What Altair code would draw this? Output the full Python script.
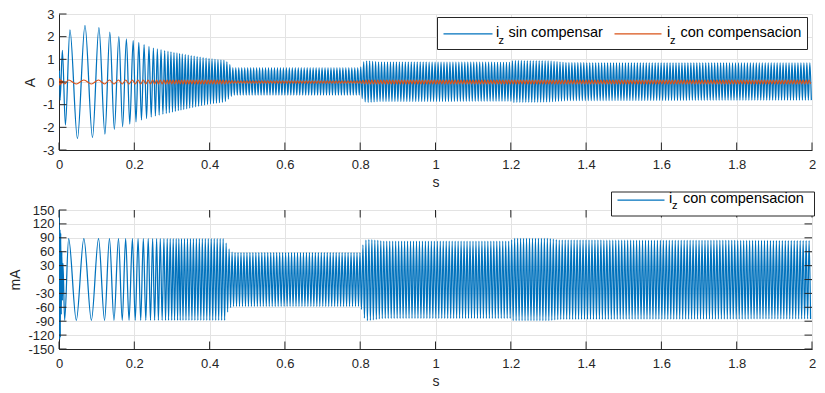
import altair as alt
import numpy as np
import pandas as pd

# ---------------- axis ticks ----------------
x_ticks = [0, 0.2, 0.4, 0.6, 0.8, 1, 1.2, 1.4, 1.6, 1.8, 2]
top_y_ticks = [-3, -2, -1, 0, 1, 2, 3]
bot_y_ticks = [-150, -120, -90, -60, -30, 0, 30, 60, 90, 120, 150]

# ---------------- i_z con compensacion (mA) ----------------
# start-up transient (time s, value mA)
comp_start_t = [0.0, 0.0007, 0.0015, 0.0025, 0.0035, 0.0045, 0.006, 0.0075, 0.009, 0.0105]
comp_start_v = [0, 160, -130, 108, -125, 100, -75, 60, -45, 35]
# times of successive extrema (trough, peak, trough, ...) of the sweep
comp_ext_t = [0.015, 0.0256, 0.046, 0.066, 0.086, 0.105, 0.121, 0.134, 0.146, 0.158,
              0.168, 0.177, 0.186, 0.195, 0.2025, 0.210, 0.217, 0.224, 0.2305, 0.237,
              0.243, 0.2487, 0.254, 0.2593, 0.264, 0.269, 0.274, 0.2787, 0.283, 0.2875,
              0.291, 0.2954, 0.2994, 0.3034, 0.307, 0.3113, 0.315, 0.3183, 0.322, 0.3254]
# upper / lower envelope
comp_hi_t = [0, 0.44, 0.445, 0.45, 0.455, 0.462, 0.8, 0.805, 0.81, 0.816, 0.83, 0.86, 1.2, 1.205, 1.30, 1.33, 2.0]
comp_hi_v = [88, 88, 76, 68, 62, 58, 58, 70, 80, 86, 86, 83, 83, 89, 89, 85, 84]
comp_lo_t = [0, 0.44, 0.445, 0.45, 0.455, 0.462, 0.8, 0.805, 0.81, 0.816, 0.83, 0.86, 1.2, 1.205, 1.30, 1.33, 2.0]
comp_lo_v = [-88, -88, -76, -66, -61, -58, -58, -68, -82, -89, -88, -84, -84, -89, -89, -86, -85]
comp_half_period = 0.00395

# ---------------- i_z sin compensar (A) ----------------
unc_start_t = [0.0, 0.0012, 0.0028, 0.009]
unc_start_v = [0, 0.5, -0.8, 1.4]
unc_ext_t = [0.017, 0.029, 0.049, 0.069, 0.089, 0.106, 0.122, 0.135, 0.147, 0.159,
             0.169, 0.179, 0.188, 0.197, 0.2045, 0.212, 0.219, 0.226, 0.2325, 0.239,
             0.245, 0.2507, 0.256, 0.2613, 0.266, 0.271, 0.276, 0.2807, 0.285, 0.2895,
             0.293, 0.2974, 0.3014, 0.3054, 0.309, 0.3133, 0.317, 0.3203, 0.324, 0.3274]
unc_hi_t = [0, 0.029, 0.069, 0.106, 0.135, 0.159, 0.179, 0.2, 0.25, 0.3, 0.35, 0.4, 0.44, 0.45,
            0.456, 0.462, 0.8, 0.805, 0.81, 0.82, 0.85, 1.2, 1.205, 1.3, 1.35, 2.0]
unc_hi_v = [2.3, 2.3, 2.5, 2.4, 2.2, 2.0, 1.9, 1.82, 1.5, 1.32, 1.17, 1.03, 0.95, 0.85,
            0.72, 0.63, 0.63, 0.78, 0.9, 0.93, 0.88, 0.87, 0.94, 0.93, 0.85, 0.84]
unc_lo_t = [0, 0.017, 0.049, 0.089, 0.122, 0.146, 0.169, 0.2, 0.25, 0.3, 0.35, 0.4, 0.44, 0.45,
            0.456, 0.462, 0.8, 0.805, 0.81, 0.82, 0.85, 1.2, 1.205, 1.3, 1.35, 2.0]
unc_lo_v = [-1.9, -1.9, -2.5, -2.45, -2.3, -2.1, -1.97, -1.78, -1.52, -1.33, -1.14, -0.97, -0.88, -0.75,
            -0.65, -0.58, -0.58, -0.72, -0.86, -0.9, -0.86, -0.85, -0.9, -0.88, -0.82, -0.8]
unc_half_period = 0.00395


def build(start_t, start_v, ext_t, hi_t, hi_v, lo_t, lo_v, half_period, t_end=2.0):
    dense_t = np.arange(ext_t[-1] + half_period, t_end + 1e-9, half_period)
    all_ext = np.concatenate([ext_t, dense_t])
    signs = -1 * (-1.0) ** np.arange(len(all_ext))
    vals = np.where(signs > 0, np.interp(all_ext, hi_t, hi_v), np.interp(all_ext, lo_t, lo_v))
    return pd.DataFrame({"t": np.concatenate([start_t, all_ext]),
                         "v": np.concatenate([start_v, vals])})


comp_df = build(comp_start_t, comp_start_v, comp_ext_t, comp_hi_t, comp_hi_v,
                comp_lo_t, comp_lo_v, comp_half_period)
unc_df = build(unc_start_t, unc_start_v, unc_ext_t, unc_hi_t, unc_hi_v,
               unc_lo_t, unc_lo_v, unc_half_period)
comp_A_df = comp_df.assign(v=comp_df["v"] / 1000.0)

# ---------------- styling ----------------
W = 753
H1 = 136
H2 = 139
PL = 59.5      # page x of plot left edge
FONT = "Liberation Sans"
AX = "#262626"
GRID = "#e3e3e3"
BLUE = "#0072BD"
ORANGE = "#D95319"
TICK = 7.5
LW = 1.25

xs = alt.Scale(domain=[0, 2], nice=False, zero=False)
ys1 = alt.Scale(domain=[-3, 3], nice=False, zero=False)
ys2 = alt.Scale(domain=[-150, 150], nice=False, zero=False)


def xaxis():
    return alt.Axis(values=x_ticks, labelExpr="toString(datum.value)", title="s",
                    ticks=False, tickSize=0, labelPadding=8, titlePadding=4,
                    labelFlush=False, labelOverlap=False, grid=True, gridColor=GRID,
                    domainColor=AX, labelFontSize=13, titleFontSize=14, labelColor=AX,
                    titleColor=AX, titleFontWeight="normal", labelFont=FONT, titleFont=FONT)


def yaxis(title, vals):
    return alt.Axis(values=vals, labelExpr="toString(datum.value)", title=title,
                    ticks=False, tickSize=0, labelPadding=5, titlePadding=5,
                    labelFlush=False, labelOverlap=False, grid=True, gridColor=GRID,
                    domainColor=AX, labelFontSize=13, titleFontSize=14, labelColor=AX,
                    titleColor=AX, titleFontWeight="normal", labelFont=FONT, titleFont=FONT)


one = pd.DataFrame({"a": [0]})


def txt(s, x, y, size=14.5, align="left"):
    return alt.Chart(one).mark_text(text=s, align=align, baseline="alphabetic", font=FONT,
                                    fontSize=size, color="#000000").encode(
        x=alt.value(x), y=alt.value(y))


def hline(x1, x2, y, color):
    return alt.Chart(one).mark_rule(color=color, strokeWidth=LW).encode(
        x=alt.value(x1), x2=alt.value(x2), y=alt.value(y))


def box(x1, x2, y1, y2):
    return alt.Chart(one).mark_rect(fill="white", stroke=AX, strokeWidth=1).encode(
        x=alt.value(x1), x2=alt.value(x2), y=alt.value(y1), y2=alt.value(y2))


XT = alt.X("t:Q", scale=xs, axis=xaxis())
YT1 = alt.Y("v:Q", scale=ys1, axis=yaxis("A", top_y_ticks))
YT2 = alt.Y("v:Q", scale=ys2, axis=yaxis("mA", bot_y_ticks))

# ---------------- top panel ----------------
top_unc = alt.Chart(unc_df).mark_line(color=BLUE, strokeWidth=LW, interpolate="monotone",
                                      clip=True).encode(x=XT, y=YT1)
top_comp = alt.Chart(comp_A_df).mark_line(color=ORANGE, strokeWidth=1.1, interpolate="monotone",
                                          clip=True).encode(x=XT, y=YT1)
top_xt = alt.Chart(pd.DataFrame({"t": x_ticks})).mark_rule(color=AX).encode(
    x=XT, y=alt.value(H1), y2=alt.value(H1 - TICK))
top_yt = alt.Chart(pd.DataFrame({"v": top_y_ticks})).mark_rule(color=AX).encode(
    y=YT1, x=alt.value(0), x2=alt.value(TICK))

ty = -14.5  # page -> panel offset (plot top at page y 14.5)
tx = -PL
top_legend = [
    box(438 + tx, 808 + tx, 18 + ty, 50 + ty),
    hline(444 + tx, 493 + tx, 34.3 + ty, BLUE),
    txt("i", 496.5 + tx, 37.5 + ty),
    txt("z", 499 + tx, 44.5 + ty, size=11),
    txt("sin compensar", 509 + tx, 37.5 + ty),
    hline(615 + tx, 662 + tx, 34.3 + ty, ORANGE),
    txt("i", 667.5 + tx, 37.5 + ty),
    txt("z", 670.5 + tx, 44.5 + ty, size=11),
    txt("con compensacion", 681 + tx, 37.5 + ty),
]

top = alt.layer(top_unc, top_comp, top_xt, top_yt, *top_legend).properties(width=W, height=H1)

# ---------------- bottom panel ----------------
bot_line = alt.Chart(comp_df).mark_line(color=BLUE, strokeWidth=LW, interpolate="monotone",
                                        clip=True).encode(x=XT, y=YT2)
bxt = pd.DataFrame({"t": x_ticks})
byt = pd.DataFrame({"v": bot_y_ticks})
bot_xt_b = alt.Chart(bxt).mark_rule(color=AX).encode(
    x=XT, y=alt.value(H2), y2=alt.value(H2 - TICK))
bot_xt_t = alt.Chart(bxt).mark_rule(color=AX).encode(
    x=XT, y=alt.value(0), y2=alt.value(TICK))
bot_yt_l = alt.Chart(byt).mark_rule(color=AX).encode(
    y=YT2, x=alt.value(0), x2=alt.value(TICK))
bot_yt_r = alt.Chart(byt).mark_rule(color=AX).encode(
    y=YT2, x=alt.value(W), x2=alt.value(W - TICK))

by = -211
bx = -7  # legend shifted so it stays inside the page
bot_legend = [
    box(619 + tx + bx, 822 + tx + bx, 193 + by, 217 + by),
    hline(625 + tx + bx, 672 + tx + bx, 201 + by, BLUE),
    txt("i", 676.5 + tx + bx, 203.5 + by),
    txt("z", 679.5 + tx + bx, 210 + by, size=11),
    txt("con compensacion", 690.5 + tx + bx, 203.5 + by),
]

bottom = alt.layer(bot_line, bot_xt_b, bot_xt_t, bot_yt_l, bot_yt_r, *bot_legend).properties(
    width=W, height=H2, view=alt.ViewBackground(stroke=AX, strokeWidth=1))

chart = alt.vconcat(top, bottom, spacing=60, bounds="flush").properties(
    padding={"left": 0, "top": 0, "right": 0, "bottom": 0},
    background="white",
).configure_view(stroke=None)

chart.save("out.html", embed_options={"renderer": "svg", "actions": False})
